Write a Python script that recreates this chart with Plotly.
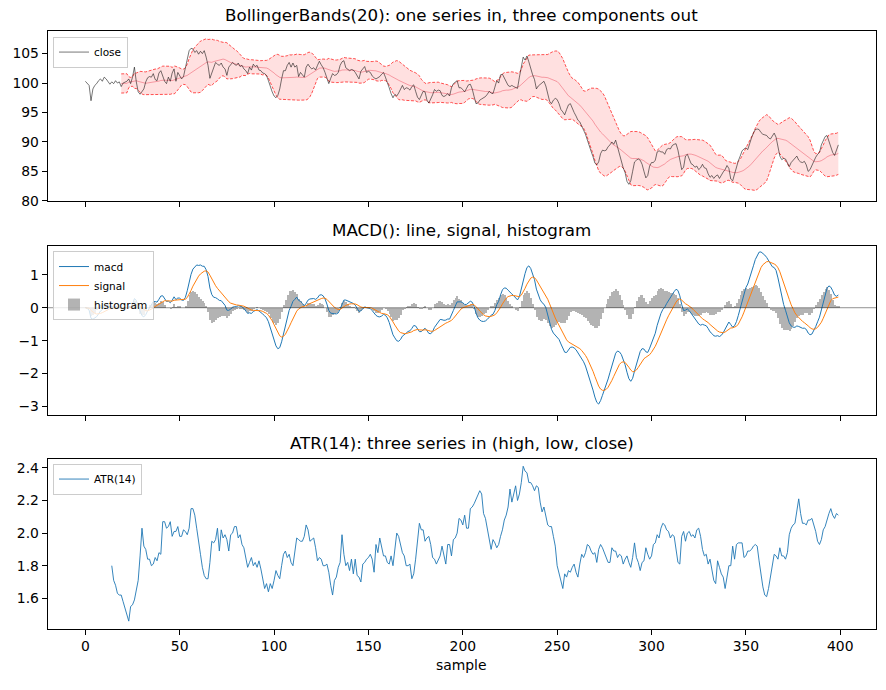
import pandas as pd
import plotly.graph_objects as go

# ---------------- data ----------------
close = [
    100.3, 100.0, 99.6, 97.0, 99.0, 99.6, 99.9, 100.4, 100.7, 100.3,
    101.0, 100.7, 100.2, 99.8, 100.2, 99.9, 100.4, 100.0, 100.2, 99.4,
    100.0, 100.2, 100.3, 100.7, 99.9, 101.0, 102.7, 100.2, 98.5, 98.1,
    98.5, 99.0, 100.2, 100.9, 101.1, 101.0, 101.6, 100.6, 100.4, 101.7,
    102.1, 101.3, 100.3, 99.9, 101.0, 100.3, 101.7, 102.4, 100.3, 101.8,
    101.3, 100.7, 101.1, 102.4, 104.1, 105.5, 105.9, 105.8, 105.2, 105.5,
    104.9, 105.4, 105.0, 105.5, 104.4, 103.0, 100.8, 101.8, 102.8, 103.5,
    103.2, 103.0, 103.4, 102.7, 102.4, 101.3, 102.7, 103.2, 103.5, 103.2,
    103.0, 103.4, 102.8, 103.0, 102.4, 102.1, 101.6, 102.7, 102.2, 103.2,
    102.8, 103.0, 102.2, 102.1, 101.7, 101.6, 101.3, 100.4, 99.3, 98.5,
    97.8, 97.5, 97.9, 99.0, 100.7, 102.1, 102.1, 103.0, 103.5, 102.7,
    103.4, 102.7, 103.0, 101.1, 101.8, 101.3, 101.0, 102.7, 103.2, 102.7,
    102.4, 102.6, 102.2, 103.0, 103.7, 103.1, 102.6, 101.8, 100.8, 99.9,
    100.8, 101.6, 101.3, 101.4, 101.8, 103.0, 103.6, 103.8, 102.6, 102.3,
    102.1, 102.3, 102.2, 101.8, 101.3, 100.7, 102.0, 102.5, 102.8, 101.8,
    102.0, 101.8, 101.2, 100.9, 100.7, 100.9, 101.1, 101.5, 101.8, 101.0,
    100.2, 99.2, 98.2, 97.5, 98.1, 97.8, 98.3, 99.0, 99.6, 98.9,
    99.2, 99.1, 98.8, 99.4, 99.7, 98.6, 97.6, 97.2, 98.0, 98.6,
    98.5, 97.1, 96.6, 97.2, 98.0, 98.9, 98.6, 98.8, 98.7, 97.9,
    97.7, 97.9, 98.2, 97.8, 99.2, 99.9, 100.1, 100.4, 99.2, 99.2,
    98.9, 98.5, 99.1, 99.7, 99.8, 99.0, 97.7, 96.5, 96.6, 97.1,
    97.3, 97.5, 97.7, 98.1, 98.6, 98.3, 98.2, 99.3, 100.4, 100.0,
    101.4, 101.5, 100.8, 100.2, 99.6, 99.4, 99.6, 99.4, 99.2, 99.1,
    101.0, 103.0, 104.4, 103.9, 104.6, 103.6, 102.3, 101.4, 100.6, 99.0,
    99.5, 99.8, 100.0, 100.3, 99.5, 98.0, 96.9, 96.5, 97.1, 97.4,
    97.2, 96.5, 95.5, 95.1, 94.6, 95.5, 96.3, 96.5, 95.6, 95.0,
    94.4, 93.7, 93.4, 92.8, 92.0, 91.3, 90.2, 89.4, 88.4, 87.5,
    86.4, 86.1, 86.6, 88.0, 88.6, 88.5, 88.6, 89.2, 89.5, 90.0,
    89.6, 90.3, 89.0, 87.8, 86.9, 85.6, 84.8, 83.3, 82.8, 83.4,
    85.0, 86.6, 86.9, 87.1, 86.9, 86.2, 85.0, 83.9, 84.3, 85.9,
    86.5, 86.5, 86.9, 88.3, 88.5, 88.3, 88.3, 87.9, 88.7, 88.9,
    88.8, 89.4, 89.6, 89.7, 88.6, 87.0, 85.3, 85.7, 87.6, 87.9,
    86.9, 86.3, 86.1, 85.7, 85.9, 85.3, 85.6, 86.2, 85.6, 85.5,
    84.6, 84.0, 84.3, 83.8, 84.2, 84.4, 83.8, 84.4, 84.9, 85.3,
    86.0, 85.5, 83.7, 83.4, 84.6, 85.7, 86.8, 87.6, 88.5, 88.8,
    89.0, 88.7, 89.8, 90.7, 91.5, 92.1, 92.2, 92.1, 91.6, 91.3,
    91.2, 91.1, 90.7, 90.5, 91.0, 91.5, 90.8, 89.0, 87.6, 87.0,
    87.2, 87.1, 86.5, 85.8, 86.5, 86.9, 87.1, 87.6, 86.9, 86.6,
    86.5, 86.7, 86.1, 85.0, 85.3, 86.0, 86.9, 87.4, 87.9, 88.2,
    89.5, 90.3, 90.9, 91.1, 90.2, 89.1, 88.2, 87.7, 88.6, 89.5,
]

atr_start = 14
atr14 = [
    1.80, 1.71, 1.68, 1.63, 1.62, 1.62, 1.58, 1.54, 1.50, 1.46,
    1.55, 1.56, 1.59, 1.64, 1.71, 1.86, 2.03, 1.92, 1.90, 1.84,
    1.84, 1.80, 1.81, 1.85, 1.83, 1.88, 1.87, 2.07, 2.07, 2.03,
    2.04, 2.07, 1.98, 2.01, 2.01, 2.04, 1.98, 1.98, 2.02, 2.01,
    1.99, 2.03, 2.15, 2.15, 2.11, 2.03, 1.96, 1.87, 1.79, 1.74,
    1.72, 1.72, 1.82, 1.95, 1.94, 1.96, 2.03, 1.89, 2.02, 1.97,
    1.99, 1.96, 1.89, 1.99, 2.00, 2.04, 2.04, 1.97, 1.99, 1.93,
    1.91, 1.85, 1.79, 1.82, 1.85, 1.80, 1.82, 1.79, 1.83, 1.78,
    1.72, 1.66, 1.69, 1.64, 1.69, 1.66, 1.71, 1.77, 1.74, 1.72,
    1.80, 1.87, 1.89, 1.85, 1.87, 1.82, 1.80, 1.89, 1.97, 1.96,
    1.95, 1.95, 1.98, 2.05, 2.02, 1.95, 1.96, 1.97, 1.91, 1.83,
    1.85, 1.84, 1.80, 1.80, 1.81, 1.76, 1.68, 1.62, 1.71, 1.73,
    1.79, 1.82, 1.99, 1.87, 1.80, 1.82, 1.77, 1.84, 1.75, 1.84,
    1.74, 1.73, 1.70, 1.81, 1.82, 1.84, 1.85, 1.87, 1.84, 1.76,
    1.93, 1.88, 1.97, 1.91, 1.86, 1.86, 1.82, 1.81, 1.86, 1.80,
    1.91, 2.00, 1.98, 1.93, 1.88, 1.86, 1.80, 1.80, 1.81, 1.72,
    1.75, 1.84, 1.97, 2.06, 2.02, 2.02, 1.95, 1.97, 1.98, 1.93,
    1.85, 1.84, 1.81, 1.84, 1.86, 1.92, 1.86, 1.81, 1.93, 1.93,
    1.86, 1.96, 1.97, 2.00, 2.09, 2.08, 2.05, 2.11, 2.03, 2.03,
    2.15, 2.16, 2.18, 2.21, 2.24, 2.26, 2.24, 2.12, 2.09, 2.03,
    1.97, 1.90, 1.96, 1.94, 1.91, 1.93, 1.98, 2.02, 2.08, 2.11,
    2.16, 2.27, 2.19, 2.24, 2.29, 2.20, 2.24, 2.31, 2.41, 2.38,
    2.37, 2.31, 2.31, 2.29, 2.26, 2.29, 2.28, 2.19, 2.13, 2.16,
    2.10, 2.05, 2.04, 2.04, 1.98, 1.92, 1.80, 1.75, 1.72, 1.66,
    1.75, 1.73, 1.77, 1.76, 1.79, 1.81, 1.76, 1.73, 1.81, 1.87,
    1.85, 1.88, 1.93, 1.92, 1.89, 1.87, 1.88, 1.82, 1.90, 1.93,
    1.91, 1.88, 1.86, 1.82, 1.82, 1.91, 1.89, 1.89, 1.85, 1.87,
    1.86, 1.81, 1.84, 1.86, 1.82, 1.79, 1.85, 1.94, 1.85, 1.82,
    1.77, 1.82, 1.83, 1.91, 1.87, 1.84, 1.86, 1.93, 1.94, 1.99,
    1.97, 2.03, 2.06, 2.05, 2.02, 2.01, 1.97, 1.99, 1.98, 1.90,
    1.82, 1.81, 1.98, 2.01, 1.95, 2.00, 2.01, 1.98, 1.99, 1.97,
    2.02, 2.03, 1.98, 1.90, 1.86, 1.87, 1.81, 1.84, 1.77, 1.71,
    1.69, 1.83, 1.79, 1.75, 1.73, 1.66, 1.73, 1.80, 1.80, 1.92,
    1.84, 1.93, 1.94, 1.94, 1.94, 1.85, 1.86, 1.89, 1.89, 1.90,
    1.92, 1.93, 1.92, 1.83, 1.74, 1.67, 1.62, 1.61, 1.66, 1.74,
    1.81, 1.87, 1.86, 1.84, 1.91, 1.86, 1.86, 1.84, 1.88, 1.99,
    2.03, 2.05, 2.06, 2.14, 2.21, 2.12, 2.06, 2.06, 2.05, 2.08,
    2.08, 2.09, 2.05, 2.01, 1.95, 1.93, 1.96, 2.02, 2.04, 2.09,
    2.12, 2.15, 2.11, 2.09, 2.12, 2.11,
]

xticks = [0, 50, 100, 150, 200, 250, 300, 350, 400]
y1_ticks = [80, 85, 90, 95, 100, 105]
y2_ticks = [-3, -2, -1, 0, 1]
y2_text = ["\u22123", "\u22122", "\u22121", "0", "1"]
y3_ticks = [1.6, 1.8, 2.0, 2.2, 2.4]
y3_text = ["1.6", "1.8", "2.0", "2.2", "2.4"]

titles = [
    "BollingerBands(20): one series in, three components out",
    "MACD(): line, signal, histogram",
    "ATR(14): three series in (high, low, close)",
]

# ---------------- indicators derived from close ----------------
s = pd.Series(close, dtype=float)
x_all = list(range(len(close)))
mid = s.rolling(20).mean()
sd = s.rolling(20).std(ddof=0)
upper = mid + 2 * sd
lower = mid - 2 * sd
valid = mid.notna()
xb = [i for i in x_all if valid[i]]

ema12 = s.ewm(span=12, adjust=False).mean()
ema26 = s.ewm(span=26, adjust=False).mean()
macd = ema12 - ema26
signal = macd.ewm(span=9, adjust=False).mean()
hist = macd - signal

x_atr = list(range(atr_start, atr_start + len(atr14)))

# ---------------- figure ----------------
W, H = 886, 690
FONT = "DejaVu Sans"
xdom = [47.7 / W, 876 / W]
doms = [
    [1 - 203.3 / H, 1 - 31 / H],
    [1 - 420 / H, 1 - 249 / H],
    [1 - 636 / H, 1 - 464.3 / H],
]

fig = go.Figure()

band_line = dict(color="rgba(255,0,0,0.85)", width=0.8, dash="3px,1.6px")
fig.add_trace(go.Scatter(x=xb, y=lower[valid], mode="lines", line=band_line,
                         showlegend=False, hoverinfo="skip", xaxis="x", yaxis="y"))
fig.add_trace(go.Scatter(x=xb, y=upper[valid], mode="lines", line=band_line,
                         fill="tonexty", fillcolor="rgba(255,0,0,0.12)",
                         showlegend=False, hoverinfo="skip", xaxis="x", yaxis="y"))
fig.add_trace(go.Scatter(x=xb, y=mid[valid], mode="lines",
                         line=dict(color="rgba(235,60,80,0.55)", width=0.8),
                         showlegend=False, xaxis="x", yaxis="y"))
fig.add_trace(go.Scatter(x=x_all, y=close, mode="lines", name="close",
                         line=dict(color="rgba(0,0,0,0.6)", width=0.9),
                         legend="legend", xaxis="x", yaxis="y"))

fig.add_trace(go.Scatter(x=x_all, y=macd, mode="lines", name="macd",
                         line=dict(color="#1f77b4", width=1.0),
                         legend="legend2", xaxis="x2", yaxis="y2"))
fig.add_trace(go.Scatter(x=x_all, y=signal, mode="lines", name="signal",
                         line=dict(color="#ff7f0e", width=1.0),
                         legend="legend2", xaxis="x2", yaxis="y2"))
fig.add_trace(go.Bar(x=x_all, y=hist, name="histogram", width=1.0,
                     marker=dict(color="rgba(128,128,128,0.6)", line=dict(width=0)),
                     legend="legend2", xaxis="x2", yaxis="y2"))

fig.add_trace(go.Scatter(x=x_atr, y=atr14, mode="lines", name="ATR(14)",
                         line=dict(color="#1f77b4", width=0.9),
                         legend="legend3", xaxis="x3", yaxis="y3"))

tickfont = dict(family=FONT, size=13.9, color="black")


def xaxis(anchor, labels):
    return dict(domain=xdom, anchor=anchor, range=[-19.95, 418.95],
                showline=True, mirror=True, linecolor="black", linewidth=1,
                ticks="outside", ticklen=5, tickwidth=1, tickcolor="black",
                showgrid=False, zeroline=False, tickmode="array", tickvals=xticks,
                showticklabels=labels, tickfont=tickfont)


def yaxis(anchor, dom, rng, vals, text):
    return dict(domain=dom, anchor=anchor, range=rng,
                showline=True, mirror=True, linecolor="black", linewidth=1,
                ticks="outside", ticklen=5, tickwidth=1, tickcolor="black",
                showgrid=False, zeroline=False, tickmode="array", tickvals=vals,
                ticktext=text, tickfont=tickfont)


legend_style = dict(bgcolor="rgba(255,255,255,0.8)", bordercolor="#cccccc",
                    borderwidth=1, font=dict(family=FONT, size=10.5, color="black"),
                    xanchor="left", yanchor="top", tracegroupgap=0, itemwidth=30)

fig.update_layout(
    width=W, height=H, autosize=False,
    margin=dict(l=0, r=0, t=0, b=0),
    paper_bgcolor="white", plot_bgcolor="white",
    font=dict(family=FONT, color="black"),
    bargap=0,
    xaxis=xaxis("y", False),
    yaxis=yaxis("x", doms[0], [79.98, 108.9], y1_ticks, [str(v) for v in y1_ticks]),
    xaxis2=xaxis("y2", False),
    yaxis2=yaxis("x2", doms[1], [-3.26, 1.87], y2_ticks, y2_text),
    xaxis3=xaxis("y3", True),
    yaxis3=yaxis("x3", doms[2], [1.414, 2.455], y3_ticks, y3_text),
    legend=dict(x=53 / W, y=1 - 37 / H, **legend_style),
    legend2=dict(x=53 / W, y=1 - 254 / H, **legend_style),
    legend3=dict(x=53 / W, y=1 - 469 / H, **legend_style),
    showlegend=True,
)

fig.add_shape(type="line", xref="x2 domain", yref="y2", x0=0, x1=1, y0=0, y1=0,
              line=dict(color="rgba(0,0,0,0.55)", width=0.8))

xc = (xdom[0] + xdom[1]) / 2
for t, d in zip(titles, doms):
    fig.add_annotation(text=t, x=xc, y=d[1], xref="paper", yref="paper",
                       xanchor="center", yanchor="bottom", yshift=4, showarrow=False,
                       font=dict(family=FONT, size=16.7, color="black"))
fig.add_annotation(text="sample", x=xc, y=doms[2][0], xref="paper", yref="paper",
                   xanchor="center", yanchor="top", yshift=-26, showarrow=False,
                   font=dict(family=FONT, size=13.9, color="black"))

fig.write_html("out.html")
